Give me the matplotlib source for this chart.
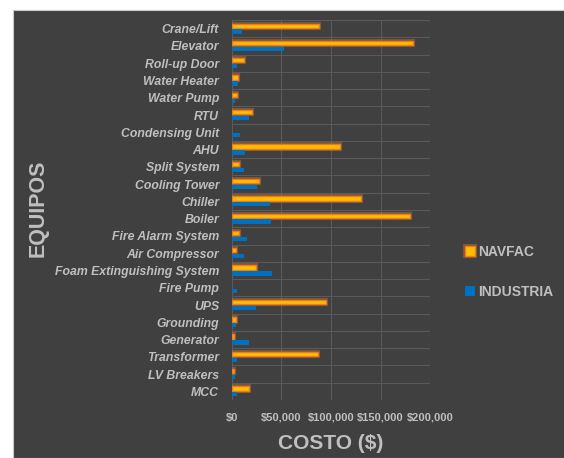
import numpy as np
import matplotlib.pyplot as plt
import matplotlib.patheffects as pe
from matplotlib.patches import Rectangle
from matplotlib.ticker import FuncFormatter

equipos = ['Crane/Lift', 'Elevator', 'Roll-up Door', 'Water Heater', 'Water Pump', 'RTU',
           'Condensing Unit', 'AHU', 'Split System', 'Cooling Tower', 'Chiller', 'Boiler',
           'Fire Alarm System', 'Air Compressor', 'Foam Extinguishing System', 'Fire Pump',
           'UPS', 'Grounding', 'Generator', 'Transformer', 'LV Breakers', 'MCC']
navfac = [88000, 183000, 12400, 6400, 5300, 20100, 0, 109000, 7700, 27800, 130500, 180000,
          7700, 4000, 24800, 0, 95000, 4300, 2000, 87000, 2700, 17500]
industria = [10400, 52700, 5000, 6000, 3600, 17100, 8700, 13000, 12000, 25200, 38900, 39300,
             15100, 12700, 40900, 5300, 24500, 4500, 17400, 5300, 3600, 5000]
x_ticks = [0, 50000, 100000, 150000, 200000]

plt.rcParams['font.family'] = ['Liberation Sans', 'DejaVu Sans']

bg = '#404040'
txt = '#BFBFBF'
grid_c = '#5A5A5A'

fig = plt.figure(figsize=(5.64, 4.58), dpi=100)
fig.patch.set_facecolor('white')
fig.patches.append(Rectangle((13 / 564, 0), 1, 1 - 10 / 458, transform=fig.transFigure,
                             facecolor=bg, edgecolor='#C8C8C8', linewidth=0.8, zorder=-10))

ax = fig.add_axes([0.4108, 0.1266, 0.3521, 0.8297])
ax.set_facecolor(bg)

y = np.arange(len(equipos))
h = 0.25
b1 = ax.barh(y - 0.17, navfac, height=h, color='#FFC000', edgecolor='#F07A1E',
             linewidth=1.0, label='NAVFAC', zorder=3)
for p, v in zip(b1, navfac):
    if v == 0:
        p.set_visible(False)
    p.set_path_effects([pe.Stroke(linewidth=3, foreground='#ED7D31', alpha=0.35), pe.Normal()])
ax.barh(y + 0.17, industria, height=h, color='#0070C0', label='INDUSTRIA', zorder=3)

ax.set_ylim(len(equipos) - 0.5, -0.5)
ax.set_xlim(0, 200000)
ax.set_yticks(y)
ax.set_yticklabels(equipos, fontsize=8.8, fontweight='bold', fontstyle='italic', color=txt)
ax.set_xticks(x_ticks)
ax.xaxis.set_major_formatter(FuncFormatter(lambda v, p: '${:,.0f}'.format(v)))
for lab in ax.get_xticklabels():
    lab.set_fontsize(8)
    lab.set_fontweight('bold')
    lab.set_color(txt)
ax.set_yticks(np.arange(len(equipos) + 1) - 0.5, minor=True)
ax.tick_params(axis='y', length=0, pad=9)
ax.tick_params(axis='x', length=0, pad=9)
ax.tick_params(axis='y', which='minor', length=0)
ax.grid(axis='x', which='major', color=grid_c, linewidth=0.8, zorder=0)
ax.grid(axis='y', which='minor', color=grid_c, linewidth=0.8, zorder=0)
ax.set_axisbelow(True)
for s in ax.spines.values():
    s.set_visible(False)

ax.set_xlabel('COSTO ($)', fontsize=15, fontweight='bold', color=txt, labelpad=8)
fig.text(38 / 564, 1 - 208 / 458, 'EQUIPOS', rotation=90, fontsize=15.5, fontweight='bold',
         color=txt, ha='center', va='center')

leg = fig.legend(loc='center left', bbox_to_anchor=(452 / 564, 1 - 272 / 458), frameon=False,
                 handlelength=0.75, handleheight=0.75, handletextpad=0.25, labelspacing=1.9,
                 prop={'weight': 'bold', 'size': 10})
for t in leg.get_texts():
    t.set_color(txt)

fig.savefig('out.png', dpi=100, facecolor=fig.get_facecolor())
